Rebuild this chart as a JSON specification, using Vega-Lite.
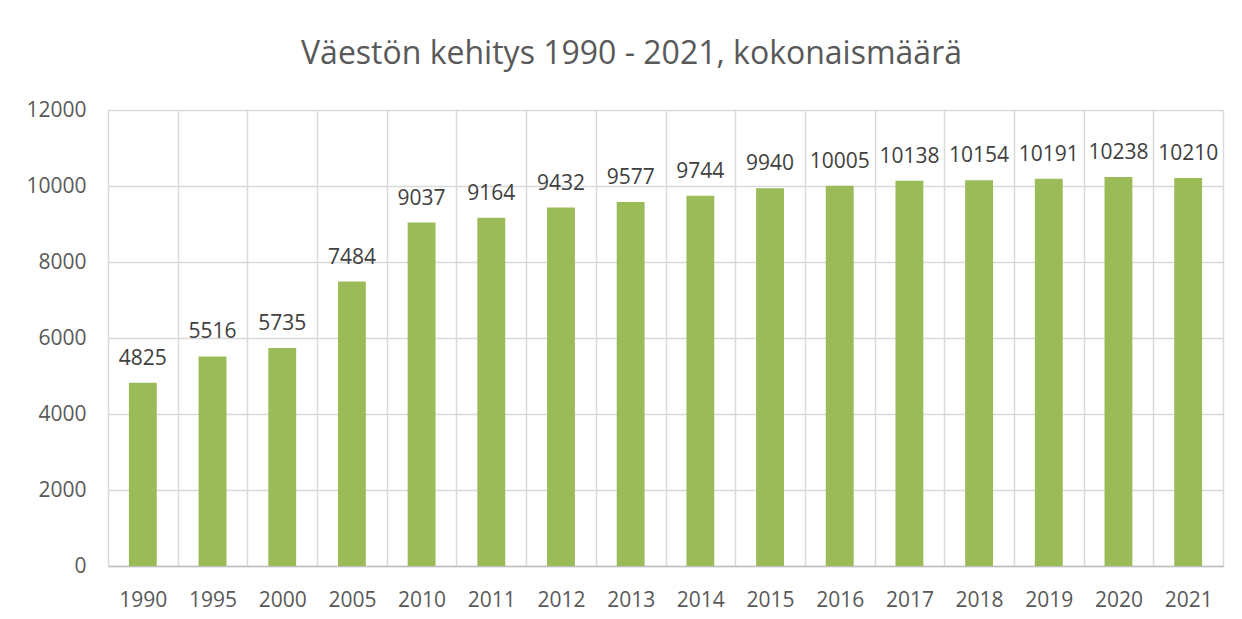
{
  "$schema": "https://vega.github.io/schema/vega-lite/v6.json",
  "autosize": {"type": "none"},
  "width": 1115,
  "height": 456,
  "padding": {"left": 108, "top": 110, "right": 19, "bottom": 53},
  "background": "white",
  "title": {
    "text": "Väestön kehitys 1990 - 2021, kokonaismäärä",
    "font": "Open Sans",
    "fontSize": 32,
    "fontWeight": "normal",
    "color": "#595959",
    "anchor": "middle",
    "dx": -34,
    "offset": 28
  },
  "data": {
    "values": [
      {"vuosi": "1990", "vakiluku": 4825},
      {"vuosi": "1995", "vakiluku": 5516},
      {"vuosi": "2000", "vakiluku": 5735},
      {"vuosi": "2005", "vakiluku": 7484},
      {"vuosi": "2010", "vakiluku": 9037},
      {"vuosi": "2011", "vakiluku": 9164},
      {"vuosi": "2012", "vakiluku": 9432},
      {"vuosi": "2013", "vakiluku": 9577},
      {"vuosi": "2014", "vakiluku": 9744},
      {"vuosi": "2015", "vakiluku": 9940},
      {"vuosi": "2016", "vakiluku": 10005},
      {"vuosi": "2017", "vakiluku": 10138},
      {"vuosi": "2018", "vakiluku": 10154},
      {"vuosi": "2019", "vakiluku": 10191},
      {"vuosi": "2020", "vakiluku": 10238},
      {"vuosi": "2021", "vakiluku": 10210}
    ]
  },
  "encoding": {
    "x": {
      "field": "vuosi",
      "type": "ordinal",
      "sort": null,
      "scale": {"paddingInner": 0, "paddingOuter": 0},
      "axis": {
        "title": null,
        "labelAngle": 0,
        "labelFont": "Open Sans",
        "labelFontSize": 21,
        "labelColor": "#595959",
        "labelBaseline": "alphabetic",
        "labelPadding": 40,
        "ticks": false,
        "tickSize": 0,
        "tickBand": "extent",
        "grid": true,
        "gridColor": "#d9d9d9",
        "gridWidth": 1.5,
        "domain": true,
        "domainColor": "#bfbfbf",
        "domainWidth": 1.5
      }
    },
    "y": {
      "field": "vakiluku",
      "type": "quantitative",
      "scale": {"domain": [0, 12000], "nice": false},
      "axis": {
        "title": null,
        "values": [0, 2000, 4000, 6000, 8000, 10000, 12000],
        "format": "d",
        "labelFont": "Open Sans",
        "labelFontSize": 21,
        "labelColor": "#595959",
        "labelPadding": 22,
        "ticks": false,
        "tickSize": 0,
        "domain": false,
        "grid": true,
        "gridColor": "#d9d9d9",
        "gridWidth": 1.5
      }
    }
  },
  "layer": [
    {"mark": {"type": "bar", "color": "#9bbb59", "width": {"band": 0.4}}},
    {
      "mark": {
        "type": "text",
        "font": "Open Sans",
        "fontSize": 21,
        "color": "#404040",
        "baseline": "alphabetic",
        "dy": -18
      },
      "encoding": {"text": {"field": "vakiluku", "type": "quantitative", "format": "d"}}
    }
  ],
  "config": {
    "view": {"stroke": null}
  }
}
